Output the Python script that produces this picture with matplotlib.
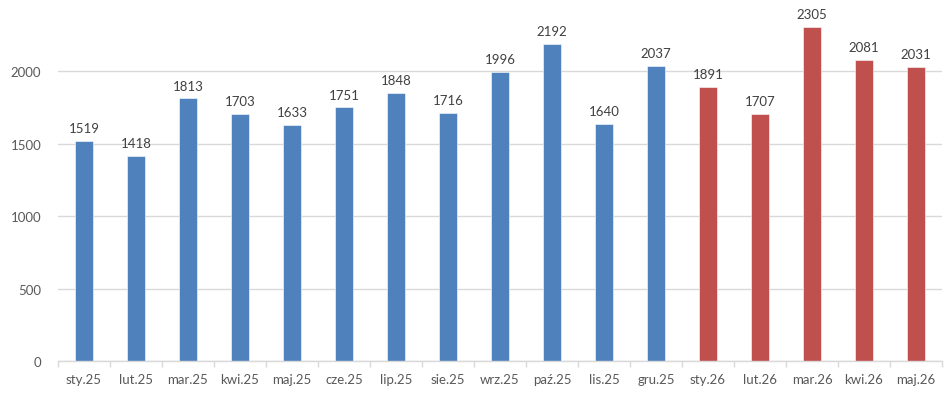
import matplotlib
matplotlib.use("Agg")
import matplotlib.pyplot as plt
import numpy as np

months = ["sty.25", "lut.25", "mar.25", "kwi.25", "maj.25", "cze.25", "lip.25", "sie.25",
          "wrz.25", "paź.25", "lis.25", "gru.25", "sty.26", "lut.26", "mar.26", "kwi.26", "maj.26"]
values = [1519, 1418, 1813, 1703, 1633, 1751, 1848, 1716, 1996, 2192, 1640, 2037,
          1891, 1707, 2305, 2081, 2031]
years = ["25"] * 12 + ["26"] * 5

BLUE = "#4F81BD"
RED = "#C0504D"
TEXT = "#595959"
LABEL = "#404040"
GRID = "#D9D9D9"

plt.rcParams['font.family'] = ['Lato', 'DejaVu Sans']

fig = plt.figure(figsize=(9.48, 4.02), dpi=100)
ax = fig.add_axes([58 / 948, 40 / 402, 884 / 948, 362 / 402])

x = np.arange(len(months))
colors = [BLUE if y == "25" else RED for y in years]
ax.bar(x, values, width=0.33, color=colors, edgecolor="white", linewidth=0.4, zorder=3)

# value labels above each bar
for xi, v in zip(x, values):
    ax.annotate(str(v), (xi, v), xytext=(0, 5), textcoords="offset points",
                ha="center", va="bottom", fontsize=9.5, color=LABEL)

ax.set_xlim(-0.5, len(months) - 0.5)
ax.set_ylim(0, 2500)
ax.set_yticks([0, 500, 1000, 1500, 2000])
ax.yaxis.grid(True, color=GRID, linewidth=1, zorder=0)

ax.set_xticks(x)
ax.set_xticklabels(months)
ax.set_xticks(np.arange(-0.5, len(months)), minor=True)
ax.tick_params(axis="x", which="major", length=0, pad=9, labelsize=9.5, labelcolor=TEXT)
ax.tick_params(axis="x", which="minor", length=4, color=GRID, width=1)
ax.tick_params(axis="y", length=0, pad=12, labelsize=9.5, labelcolor=TEXT)

for side in ["top", "right", "left"]:
    ax.spines[side].set_visible(False)
ax.spines["bottom"].set_color(GRID)
ax.spines["bottom"].set_linewidth(1)
ax.spines["bottom"].set_zorder(4)

fig.savefig("out.png", dpi=100)
